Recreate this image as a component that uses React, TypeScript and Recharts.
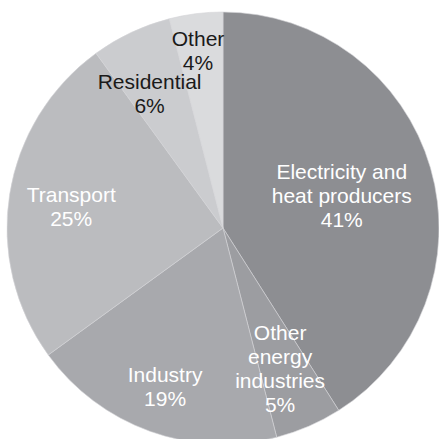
import { PieChart, Pie, Cell } from "recharts";

// sectors, clockwise from 12 o'clock
const sectors = [
  "Electricity and heat producers",
  "Other energy industries",
  "Industry",
  "Transport",
  "Residential",
  "Other",
];
const shares = [41, 5, 19, 25, 6, 4];
const labelLines = [
  ["Electricity and", "heat producers", "41%"],
  ["Other", "energy", "industries", "5%"],
  ["Industry", "19%"],
  ["Transport", "25%"],
  ["Residential", "6%"],
  ["Other", "4%"],
];

const COLORS = ["#8d8e92", "#9c9da1", "#a8a9ad", "#bbbcbf", "#cbcccf", "#dadbdd"];
const TEXT_COLORS = ["#ffffff", "#ffffff", "#ffffff", "#ffffff", "#1a1a1a", "#1a1a1a"];
// where the label sits: fraction of radius + small angle nudge (deg)
const LABEL_R = [0.57, 0.7, 0.78, 0.71, 0.71, 0.83];
const LABEL_DA = [-0.9, -1.2, -0.3, 0.8, 3.4, 0.8];

const data = sectors.map((name, i) => ({ name, value: shares[i] }));

const RADIAN = Math.PI / 180;
const LINE_H = 24;
const FONT = 21;

const renderLabel = ({ cx, cy, midAngle, outerRadius, index }: any) => {
  const a = (midAngle + LABEL_DA[index]) * RADIAN;
  const r = outerRadius * LABEL_R[index];
  const x = cx + r * Math.cos(a);
  const y = cy - r * Math.sin(a);
  const lines = labelLines[index];
  // vertical centre of block (cap top of first line -> baseline of last)
  const first = y - ((lines.length - 1) * LINE_H) / 2 + FONT * 0.36;
  return (
    <text
      x={x}
      y={first}
      textAnchor="middle"
      fill={TEXT_COLORS[index]}
      fontSize={FONT}
      fontFamily="'Liberation Sans', Arial, Helvetica, sans-serif"
    >
      {lines.map((l, k) => (
        <tspan key={k} x={x} y={first + k * LINE_H}>
          {l}
        </tspan>
      ))}
    </text>
  );
};

export default function App() {
  return (
    <div style={{ position: "absolute", left: 0, top: 0, width: 439, height: 439, background: "#fff" }}>
      <PieChart width={439} height={439} margin={{ top: 0, right: 0, bottom: 0, left: 0 }}>
        <Pie
          data={data}
          dataKey="value"
          nameKey="name"
          cx={223}
          cy={228}
          outerRadius={216}
          startAngle={90}
          endAngle={-270}
          stroke="#d4d4d6"
          strokeWidth={0.6}
          labelLine={false}
          label={renderLabel}
          isAnimationActive={false}
        >
          {data.map((_, i) => (
            <Cell key={`cell-${i}`} fill={COLORS[i]} />
          ))}
        </Pie>
      </PieChart>
    </div>
  );
}
